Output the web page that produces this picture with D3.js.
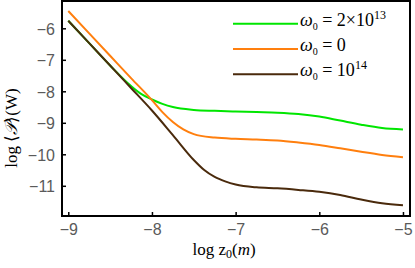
<!DOCTYPE html>
<html>
<head>
<meta charset="utf-8">
<script src="https://cdn.jsdelivr.net/npm/d3@7"></script>
<style>
  html, body { margin: 0; padding: 0; background: #fff; }
  svg { display: block; }
</style>
</head>
<body>
<svg id="chart" width="415" height="268"></svg>
<script>
// ---- data ----
const xGreen = [-9, -8.75, -8.5, -8.25, -8.125, -8, -7.875, -7.75, -7.5, -7.25, -7, -6.75, -6.5, -6.25, -6, -5.75, -5.5, -5.25, -5];
const yGreen = [-5.76, -6.47, -7.18, -7.83, -8.09, -8.26, -8.40, -8.50, -8.59, -8.62, -8.64, -8.66, -8.68, -8.72, -8.80, -8.93, -9.06, -9.165, -9.21];

const xOrange = [-9, -8.75, -8.5, -8.25, -8, -7.875, -7.75, -7.625, -7.5, -7.25, -7, -6.75, -6.5, -6.25, -6, -5.75, -5.5, -5.25, -5];
const yOrange = [-5.45, -6.16, -6.87, -7.58, -8.28, -8.66, -8.975, -9.21, -9.36, -9.47, -9.51, -9.53, -9.56, -9.625, -9.705, -9.81, -9.92, -10.02, -10.09];

const xBrown = [-9, -8.75, -8.5, -8.25, -8, -7.75, -7.5, -7.375, -7.25, -7.125, -7, -6.75, -6.5, -6.25, -6, -5.75, -5.5, -5.25, -5];
const yBrown = [-5.76, -6.47, -7.18, -7.895, -8.61, -9.39, -10.18, -10.50, -10.72, -10.86, -10.96, -11.05, -11.08, -11.13, -11.19, -11.29, -11.435, -11.555, -11.62];

const xTicks = [-9, -8, -7, -6, -5];
const yTicks = [-6, -7, -8, -9, -10, -11];
const seriesNames = ["green", "orange", "brown"];
const seriesColors = ["#00e600", "#ff7f0e", "#4a2a0c"];

// ---- layout ----
const svg = d3.select("#chart");
const L = 62, R = 410, T = 1, B = 216;
const x = d3.scaleLinear().domain([-9.075, -4.916]).range([L, R]);
const y = d3.scaleLinear().domain([-5.133, -11.959]).range([T, B]);

const fmt = d => (d < 0 ? "\u2212" + Math.abs(d) : String(d));

// axes (inward ticks)
const gx = svg.append("g").attr("transform", `translate(0,${B})`)
  .call(d3.axisBottom(x).tickValues(xTicks).tickSize(-4).tickPadding(7).tickFormat(fmt));
const gy = svg.append("g").attr("transform", `translate(${L},0)`)
  .call(d3.axisLeft(y).tickValues(yTicks).tickSize(-4).tickPadding(7).tickFormat(fmt));
[gx, gy].forEach(g => {
  g.select(".domain").remove();
  g.selectAll(".tick line").attr("stroke", "#000").attr("stroke-width", 1.5);
  g.selectAll(".tick text").attr("fill", "#5a5a5a")
    .style("font-family", "'Liberation Sans', Arial, sans-serif").style("font-size", "16px");
});
gx.selectAll(".tick text").attr("dy", null).attr("y", 19);
gy.selectAll(".tick text").attr("dy", "0.36em");

// curves
const datasets = [
  xGreen.map((v, i) => [v, yGreen[i]]),
  xOrange.map((v, i) => [v, yOrange[i]]),
  xBrown.map((v, i) => [v, yBrown[i]])
];
const line = d3.line().x(d => x(d[0])).y(d => y(d[1])).curve(d3.curveMonotoneX);
svg.append("g").selectAll("path").data(datasets).join("path")
  .attr("d", line).attr("fill", "none")
  .attr("stroke", (d, i) => seriesColors[i]).attr("stroke-width", 2);

// frame
svg.append("rect").attr("x", L).attr("y", T).attr("width", R - L).attr("height", B - T)
  .attr("fill", "none").attr("stroke", "#000").attr("stroke-width", 2);

// legend
const legY = [23.7, 49, 74.3];
const lg = svg.append("g");
seriesColors.forEach((c, i) => {
  lg.append("line").attr("x1", 233).attr("x2", 298).attr("y1", legY[i]).attr("y2", legY[i])
    .attr("stroke", c).attr("stroke-width", 2);
});
const serif = "'Liberation Serif', 'Times New Roman', serif";
function legendText(yb, rest, sup) {
  const t = lg.append("text").attr("x", 300).attr("y", yb)
    .style("font-family", serif).style("font-size", "18px").attr("fill", "#000");
  t.append("tspan").style("font-style", "italic").text("\u03C9");
  t.append("tspan").attr("dy", 4).style("font-size", "10px").text("0");
  t.append("tspan").attr("dy", -4).text(" = " + rest);
  if (sup) t.append("tspan").attr("dy", -7).style("font-size", "12px").text(sup);
}
legendText(26, "2\u00D710", "13");
legendText(50.5, "0", null);
legendText(75.5, "10", "14");

// axis titles
const xt = svg.append("text").attr("x", 224).attr("y", 255).attr("text-anchor", "middle")
  .style("font-family", serif).style("font-size", "17px");
xt.append("tspan").text("log z");
xt.append("tspan").attr("dy", 3).style("font-size", "12px").text("0");
xt.append("tspan").attr("dy", -3).text("(");
xt.append("tspan").style("font-style", "italic").text("m");
xt.append("tspan").text(")");

const yt = svg.append("text").attr("transform", "translate(17,128) rotate(-90)")
  .attr("text-anchor", "middle").style("font-family", serif).style("font-size", "17px");
yt.append("tspan").text("log \u27E8");
yt.append("tspan").style("font-style", "italic").text("\uD835\uDCAB");
yt.append("tspan").text("\u27E9(W)");
</script>
</body>
</html>
